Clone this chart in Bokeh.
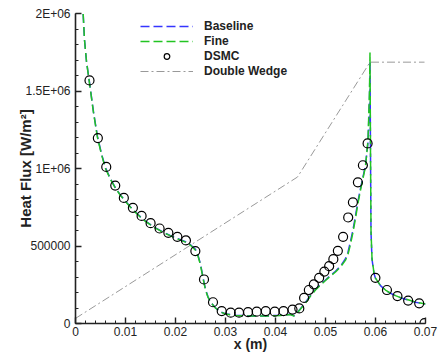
import math
from bokeh.plotting import figure
from bokeh.models import Legend, LegendItem, FixedTicker, Range1d
from bokeh.embed import file_html
from bokeh.resources import INLINE

# ---- data ----
x_cfd = [0.0014, 0.0018, 0.0022, 0.0028, 0.0036, 0.0044, 0.0052, 0.006, 0.007, 0.008,
         0.009, 0.010, 0.011, 0.012, 0.013, 0.014, 0.015, 0.016, 0.017, 0.018,
         0.019, 0.020, 0.021, 0.022, 0.023, 0.024, 0.0245, 0.025, 0.0255, 0.026,
         0.0265, 0.027, 0.028, 0.029, 0.030, 0.032, 0.035, 0.038, 0.041, 0.043,
         0.0437, 0.0445, 0.045, 0.046, 0.047, 0.048, 0.049, 0.050, 0.051, 0.052,
         0.053, 0.054, 0.0545, 0.055, 0.0555, 0.056, 0.0565, 0.057, 0.0575, 0.058,
         0.0585, 0.0588, 0.0589, 0.0590, 0.0591, 0.0593, 0.0597, 0.060, 0.061, 0.062,
         0.063, 0.064, 0.065, 0.066, 0.067, 0.068, 0.069, 0.070]

fine_q = [2080000, 1830000, 1690000, 1550000, 1360000, 1200000, 1090000, 1000000, 930000, 873000,
          826000, 787000, 750000, 717000, 686000, 659000, 636000, 615000, 597000, 580000,
          565000, 551000, 538000, 525000, 505000, 473000, 435000, 377000, 293000, 216000,
          170000, 138000, 100000, 74000, 61000, 52000, 48000, 48000, 52000, 58000,
          48000, 74000, 93000, 132000, 177000, 216000, 248000, 277000, 306000, 332000,
          364000, 409000, 447000, 512000, 589000, 679000, 776000, 860000, 937000, 1014000,
          1181000, 1500000, 1748000, 1117000, 601000, 422000, 325000, 293000, 245000, 216000,
          196000, 180000, 167000, 158000, 148000, 138000, 132000, 126000]

baseline_q = [2080000, 1830000, 1690000, 1555000, 1365000, 1205000, 1095000, 1005000, 932000, 875000,
              828000, 789000, 752000, 719000, 688000, 661000, 638000, 617000, 599000, 582000,
              567000, 553000, 540000, 527000, 508000, 478000, 440000, 383000, 298000, 220000,
              172000, 139000, 101000, 75000, 62000, 53000, 49000, 49000, 53000, 59000,
              50000, 76000, 96000, 136000, 181000, 220000, 252000, 281000, 310000, 337000,
              370000, 418000, 460000, 530000, 605000, 695000, 790000, 872000, 946000, 1020000,
              1170000, 1450000, 1690000, 1100000, 590000, 415000, 322000, 291000, 244000, 215000,
              195000, 179000, 166000, 157000, 147000, 137000, 131000, 125000]

x_dsmc = [0.0028, 0.00447, 0.00615, 0.00795, 0.00967, 0.01148, 0.01322, 0.01502, 0.01682, 0.01857,
          0.02037, 0.02209, 0.02397, 0.0257, 0.0275, 0.02924, 0.03104, 0.03271, 0.03451, 0.03625,
          0.03805, 0.03985, 0.0416, 0.0434, 0.04476, 0.04572, 0.04667, 0.04767, 0.04873, 0.04977,
          0.05073, 0.05157, 0.05247, 0.05352, 0.05454, 0.05548, 0.05648, 0.05748, 0.05842, 0.05998,
          0.06229, 0.06439, 0.06653, 0.06874, 0.0698]
q_dsmc = [1568000, 1196000, 1010000, 890000, 810000, 746000, 694000, 647000, 613000, 585000,
          559000, 536000, 467000, 284000, 137000, 80000, 70000, 70000, 74000, 76000,
          80000, 76000, 80000, 90000, 97000, 165000, 216000, 253000, 295000, 335000,
          370000, 415000, 469000, 559000, 684000, 782000, 911000, 1021000, 1162000, 295000,
          216000, 177000, 148000, 130000, 2000]

x_wedge = [0.0, 0.0444, 0.0589, 0.0698]
y_wedge = [33000, 945000, 1686000, 1686000]

x_ticks = [0, 0.01, 0.02, 0.03, 0.04, 0.05, 0.06, 0.07]
x_tick_labels = ["0", "0.01", "0.02", "0.03", "0.04", "0.05", "0.06", "0.07"]
x_minor = [i * 0.002 for i in range(36)]
y_ticks = [0, 500000, 1000000, 1500000, 2000000]
y_tick_labels = ["0", "500000", "1E+06", "1.5E+06", "2E+06"]
y_minor = [i * 100000 for i in range(21)]

FONT = "Liberation Sans"

p = figure(width=448, height=355,
           x_range=Range1d(0, 0.07), y_range=Range1d(0, 2000000),
           output_backend="svg", toolbar_location=None,
           min_border_left=75, min_border_right=23, min_border_top=13, min_border_bottom=32)
p.xgrid.visible = False
p.ygrid.visible = False
p.outline_line_color = None
p.background_fill_color = "white"

for ax, ticks, labels, minor in ((p.xaxis, x_ticks, x_tick_labels, x_minor),
                                 (p.yaxis, y_ticks, y_tick_labels, y_minor)):
    ax.ticker = FixedTicker(ticks=ticks, minor_ticks=minor)
    ax.major_label_overrides = {t: l for t, l in zip(ticks, labels)}
    ax.axis_line_color = "#222222"
    ax.axis_line_width = 1.6
    ax.major_tick_line_color = "#222222"
    ax.minor_tick_line_color = "#222222"
    ax.major_tick_line_width = 1.4
    ax.minor_tick_line_width = 1
    ax.major_tick_in = 6
    ax.major_tick_out = 0
    ax.minor_tick_in = 3
    ax.minor_tick_out = 0
    ax.major_label_text_font = FONT
    ax.major_label_text_font_size = "12px"
    ax.major_label_text_color = "#222222"
    ax.axis_label_text_font = FONT
    ax.axis_label_text_font_style = "bold"
    ax.axis_label_text_color = "#222222"
p.xaxis.major_label_standoff = 3
p.yaxis.major_label_standoff = 5
p.xaxis.axis_label = "x (m)"
p.xaxis.axis_label_text_font_size = "14px"
p.xaxis.axis_label_standoff = -3
p.yaxis.axis_label = "Heat Flux [W/m²]"
p.yaxis.axis_label_text_font_size = "15px"
p.yaxis.axis_label_standoff = -12

rw = p.line(x_wedge, y_wedge, line_color="#999999", line_width=1, line_dash="8 3 2 3")
rb = p.line(x_cfd, baseline_q, line_color="#3535ff", line_width=1.5, line_dash="9 4")
rf = p.line(x_cfd, fine_q, line_color="#22c422", line_width=1.5, line_dash="9 4")
rd = p.scatter(x_dsmc, q_dsmc, marker="circle", size=9, line_color="black",
               line_width=1.2, fill_alpha=0)

legend = Legend(items=[LegendItem(label="Baseline", renderers=[rb]),
                       LegendItem(label="Fine", renderers=[rf]),
                       LegendItem(label="DSMC", renderers=[rd]),
                       LegendItem(label="Double Wedge", renderers=[rw])],
                location=(65, 245), padding=0, margin=0, spacing=1,
                glyph_height=14, label_height=14, glyph_width=53, label_standoff=11,
                background_fill_alpha=0, border_line_color=None,
                label_text_font=FONT, label_text_font_size="12px",
                label_text_font_style="bold", label_text_color="#222222")
p.add_layout(legend)

open("out.html", "w").write(file_html(p, INLINE))
